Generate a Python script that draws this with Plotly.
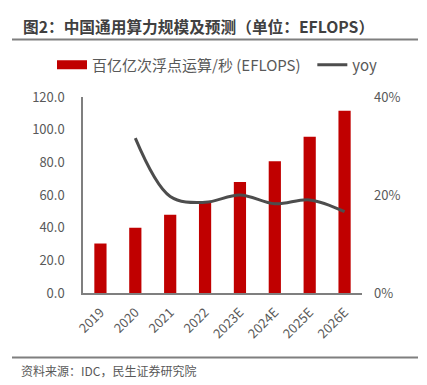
import plotly.graph_objects as go

categories = ["2019", "2020", "2021", "2022", "2023E", "2024E", "2025E", "2026E"]
eflops = [30.3, 39.9, 47.9, 56.4, 68.0, 80.7, 95.7, 111.6]
yoy = [None, 0.316, 0.197, 0.185, 0.200, 0.182, 0.190, 0.166]

left_ticks = [0, 20, 40, 60, 80, 100, 120]
left_tick_text = ["0.0", "20.0", "40.0", "60.0", "80.0", "100.0", "120.0"]
right_ticks = [0, 0.2, 0.4]
right_tick_text = ["0%", "20%", "40%"]

RED = "#C00000"
GRAY = "#4D4D4D"
TXT = "#595959"
FONT = "Noto Sans CJK SC"

W, H = 427, 385
ML, MR, MT, MB = 83, 65, 97, 92

def px_x(px):
    return (px - ML) / (W - ML - MR)

def px_y(py):
    return (H - MB - py) / (H - MT - MB)

fig = go.Figure()
fig.add_trace(go.Bar(x=categories, y=eflops, marker=dict(color=RED, line=dict(width=0)),
                     name="百亿亿次浮点运算/秒 (EFLOPS)", showlegend=False, yaxis="y"))
# legend entry for bars (wide rectangle swatch)
fig.add_trace(go.Scatter(x=[None], y=[None], mode="lines", line=dict(color=RED, width=9),
                         name="百亿亿次浮点运算/秒 (EFLOPS)\u00a0\u00a0", yaxis="y"))
fig.add_trace(go.Scatter(x=categories, y=yoy, mode="lines", name="yoy",
                         line=dict(color=GRAY, width=3, shape="spline", smoothing=1.0),
                         yaxis="y2"))

fig.update_layout(
    width=W, height=H,
    margin=dict(l=ML, r=MR, t=MT, b=MB, autoexpand=False),
    plot_bgcolor="white", paper_bgcolor="white",
    font=dict(family=FONT, size=13, color=TXT),
    bargap=0.65,
    showlegend=True,
    legend=dict(orientation="h", xref="paper", yref="paper",
                x=px_x(52), xanchor="left", y=px_y(65), yanchor="middle",
                font=dict(size=15, color=TXT), itemwidth=30,
                traceorder="normal", bgcolor="rgba(0,0,0,0)"),
    xaxis=dict(type="category", showline=True, linecolor="#7F7F7F", linewidth=1.5,
               ticks="", tickangle=-45, showgrid=False, ticklabelstandoff=5,
               tickfont=dict(size=13, color=TXT)),
    yaxis=dict(range=[0, 120], tickvals=left_ticks, ticktext=left_tick_text, showline=True,
               linecolor="#7F7F7F", linewidth=1.5, showgrid=False, ticks="",
               zeroline=False, ticklabelstandoff=14, tickfont=dict(size=13, color=TXT)),
    yaxis2=dict(range=[0, 0.4], tickvals=right_ticks, ticktext=right_tick_text, overlaying="y",
                side="right", showline=False, showgrid=False, ticks="", zeroline=False,
                ticklabelstandoff=11, tickfont=dict(size=13, color=TXT)),
)

fig.add_annotation(text="<b>图2：中国通用算力规模及预测（单位：EFLOPS）</b>", xref="paper", yref="paper",
                   x=px_x(21), xanchor="left", y=px_y(27), yanchor="middle", showarrow=False,
                   font=dict(size=15.7, color="#404040", family=FONT))
fig.add_annotation(text="资料来源：IDC，民生证券研究院", xref="paper", yref="paper",
                   x=px_x(19), xanchor="left", y=px_y(370), yanchor="middle", showarrow=False,
                   font=dict(size=12, color=TXT, family=FONT))

for py in (39.5, 357.5):
    fig.add_shape(type="line", xref="paper", yref="paper", x0=px_x(12), x1=px_x(418),
                  y0=px_y(py), y1=px_y(py), line=dict(color="#7F7F7F", width=2))

fig.write_html("out.html", config={"displayModeBar": False},
               post_script="document.body.style.margin='0';")
